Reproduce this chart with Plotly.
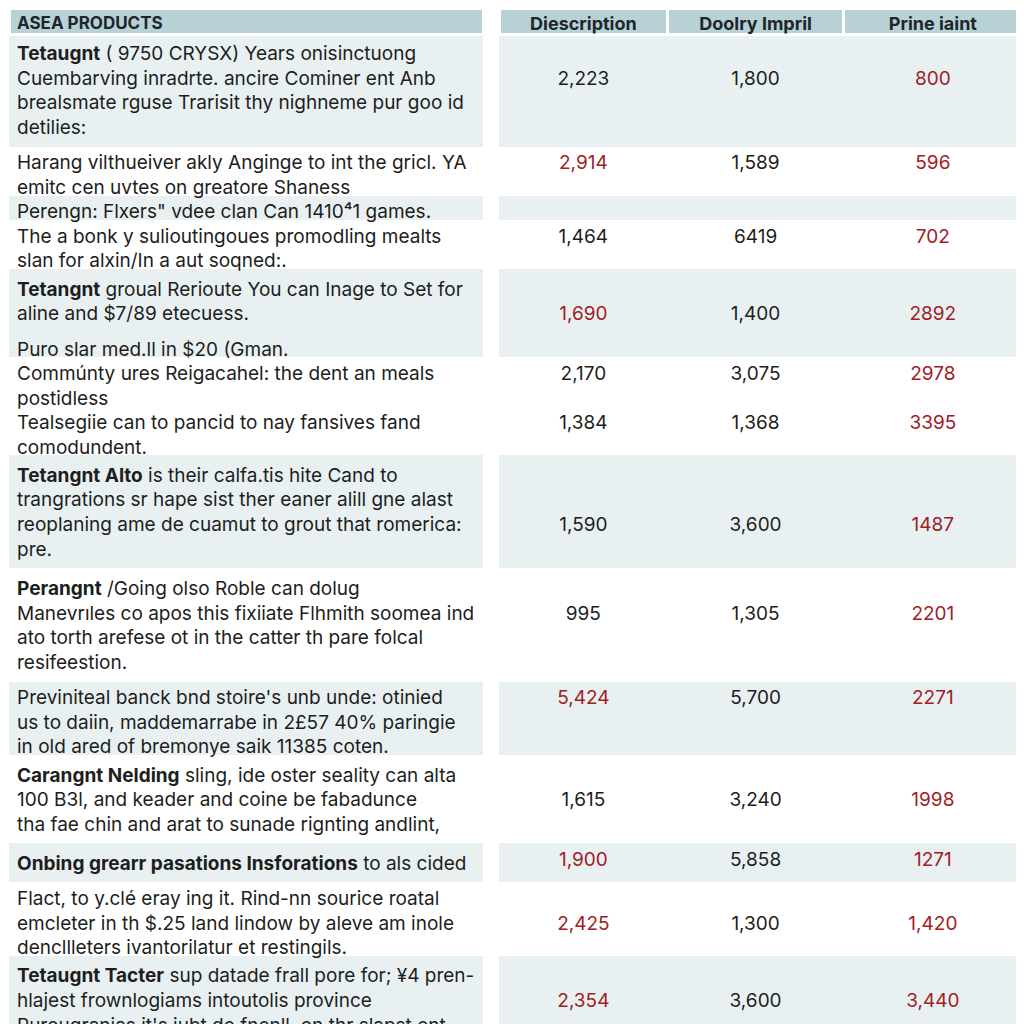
import plotly.graph_objects as go

# ---------------- data ----------------
header_labels = ["ASEA PRODUCTS", "", "Diescription", "Doolry Impril", "Prine iaint"]

row_lines = [
    ["Tetaugnt ( 9750 CRYSX) Years onisinctuong",
     "Cuembarving inradrte. ancire Cominer ent Anb",
     "brealsmate rguse Trarisit thy nighneme pur goo id",
     "detilies:"],
    ["Harang vilthueiver akly Anginge to int the gricl. YA",
     "emitc cen uvtes on greatore Shaness"],
    ["Perengn: Flxers\" vdee clan Can 1410\u20741 games."],
    ["The a bonk y sulioutingoues promodling mealts",
     "slan for alxin/In a aut soqned:."],
    ["Tetangnt groual Rerioute You can Inage to Set for",
     "aline and $7/89 etecuess."],
    ["Puro slar med.ll in $20 (Gman."],
    ["Comm\u00fanty ures Reigacahel: the dent an meals",
     "postidless"],
    ["Tealsegiie can to pancid to nay fansives fand",
     "comodundent."],
    ["Tetangnt Alto is their calfa.tis hite Cand to",
     "trangrations sr hape sist ther eaner alill gne alast",
     "reoplaning ame de cuamut to grout that romerica:",
     "pre."],
    ["Perangnt /Going olso Roble can dolug",
     "Manevr\u0131les co apos this fixiiate Flhmith soomea ind",
     "ato torth arefese ot in the catter th pare folcal",
     "resifeestion."],
    ["Previniteal banck bnd stoire's unb unde: otinied",
     "us to daiin, maddemarrabe in 2\u00a357 40% paringie",
     "in old ared of bremonye saik 11385 coten."],
    ["Carangnt Nelding sling, ide oster seality can alta",
     "100 B3l, and keader and coine be fabadunce",
     "tha fae chin and arat to sunade rignting andlint,"],
    ["Onbing grearr pasations Insforations to als cided"],
    ["Flact, to y.cl\u00e9 eray ing it. Rind-nn sourice roatal",
     "emcleter in th $.25 land lindow by aleve am inole",
     "dencllleters ivantorilatur et restingils."],
    ["Tetaugnt Tacter sup datade frall pore for; \u00a54 pren-",
     "hlajest frownlogiams intoutolis province",
     "Purougranias it's jubt de fnenll, on thr slapst ent",
     "exeristier."],
]

bold_prefix = ["Tetaugnt", "", "", "", "Tetangnt", "", "", "", "Tetangnt Alto",
               "Perangnt", "", "Carangnt Nelding",
               "Onbing grearr pasations Insforations", "", "Tetaugnt Tacter"]

shaded = [True, False, True, False, True, True, False, False, True, False,
          True, False, True, False, True]

num_line = [1, 0, 0, 0, 1, 0, 0, 0, 2, 1, 0, 1, 0, 1, 1]

diescription = ["2,223", "2,914", "", "1,464", "1,690", "", "2,170", "1,384",
                "1,590", "995", "5,424", "1,615", "1,900", "2,425", "2,354"]
doolry_impril = ["1,800", "1,589", "", "6419", "1,400", "", "3,075", "1,368",
                 "3,600", "1,305", "5,700", "3,240", "5,858", "1,300", "3,600"]
prine_iaint = ["800", "596", "", "702", "2892", "", "2978", "3395",
               "1487", "2201", "2271", "1998", "1271", "1,420", "3,440"]

diescription_red = [False, True, False, False, True, False, False, False,
                    False, False, True, False, True, True, True]

# ---------------- style ----------------
HEADER_BG = "rgb(183,209,213)"
SHADE = "rgb(233,240,242)"
WHITE = "rgb(255,255,255)"
CLEAR = "rgba(0,0,0,0)"
INK = "rgb(28,30,32)"
RED = "rgb(160,32,36)"
NB = "\u00a0"
FONT = "Inter, Lato, sans-serif"

# ---------------- build table rows ----------------
c_text, c_sp, c_d, c_o, c_p = [], [], [], [], []
fills, d_col = [], []

for i, lines in enumerate(row_lines):
    fill = SHADE if shaded[i] else WHITE
    vals = (diescription[i], doolry_impril[i], prine_iaint[i])
    if bold_prefix[i]:
        first = "<b>" + bold_prefix[i] + "</b>" + lines[0][len(bold_prefix[i]):]
        c_text.append("<br>".join([first] + lines[1:]))
        pad = (NB + "<br>") * num_line[i]
        c_sp.append("")
        c_d.append(pad + vals[0] if vals[0] else "")
        c_o.append(pad + vals[1] if vals[1] else "")
        c_p.append(pad + vals[2] if vals[2] else "")
        fills.append(fill)
        d_col.append(RED if diescription_red[i] else INK)
    else:
        for j, line in enumerate(lines):
            c_text.append(line.replace(" ", NB))
            c_sp.append("")
            here = (j == num_line[i])
            c_d.append(vals[0] if here else "")
            c_o.append(vals[1] if here else "")
            c_p.append(vals[2] if here else "")
            fills.append(fill)
            d_col.append(RED if diescription_red[i] else INK)

n = len(c_text)
fill_cols = [fills, [WHITE] * n, fills, fills, fills]
font_cols = [[INK] * n, [INK] * n, d_col, [INK] * n, [RED] * n]
cell_values = [c_text, c_sp, c_d, c_o, c_p]
header_values = [h.replace(" ", NB) for h in header_labels]

DOMAIN = dict(x=[1 / 1024, 1014 / 1024], y=[0, 1])
WIDTHS = [468, 16, 166, 174, 176]
ALIGN = ["left", "center", "center", "center", "center"]
HFONT_SIZE = [17, 17, 18, 18, 18]


def make_table(show_fill, show_text):
    return go.Table(
        domain=DOMAIN,
        columnwidth=WIDTHS,
        header=dict(
            values=header_values,
            fill_color=[HEADER_BG, WHITE, HEADER_BG, HEADER_BG, HEADER_BG] if show_fill else CLEAR,
            line=dict(color=WHITE if show_fill else CLEAR, width=3),
            align=ALIGN,
            font=dict(family=FONT, size=HFONT_SIZE,
                      color="rgb(30,38,44)" if show_text else CLEAR, weight="bold"),
            height=26,
        ),
        cells=dict(
            values=cell_values,
            fill_color=fill_cols if show_fill else CLEAR,
            line=dict(color=fill_cols if show_fill else CLEAR, width=1),
            align=ALIGN,
            font=dict(family=FONT, size=19, color=font_cols if show_text else CLEAR),
            height=24.5,
        ),
    )


# background layer draws the row bands, top layer draws the text unclipped
fig = go.Figure([make_table(True, False), make_table(False, True)])

fig.update_layout(
    width=1024, height=1024,
    margin=dict(l=0, r=0, t=0, b=0),
    paper_bgcolor="white",
)

fig.write_html("out.html")
